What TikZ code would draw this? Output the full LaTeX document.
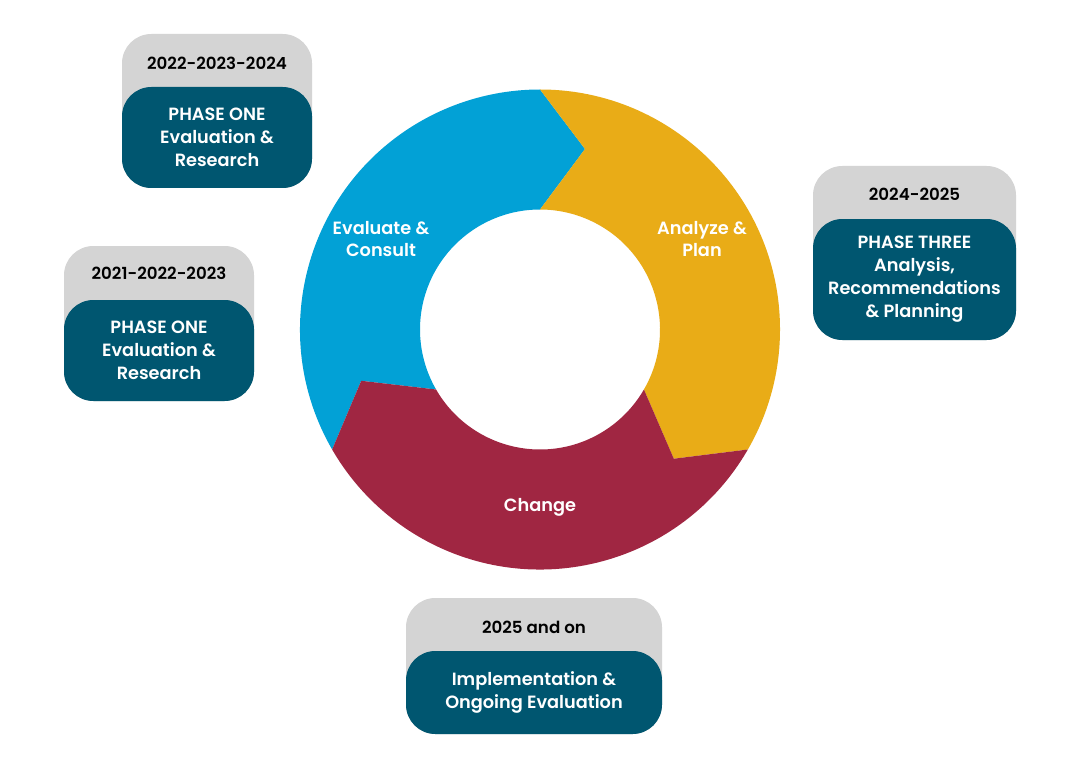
\documentclass[tikz,border=0pt]{standalone}
\usepackage{fontspec}
\setmainfont{Poppins}[BoldFont={Poppins SemiBold}]
\usetikzlibrary{positioning}
\definecolor{ringblue}{HTML}{02A1D6}
\definecolor{ringgold}{HTML}{E9AC17}
\definecolor{ringred}{HTML}{A02642}
\definecolor{phaseteal}{HTML}{005670}
\definecolor{yeargray}{HTML}{D4D4D4}

\begin{document}
\begin{tikzpicture}[x=0.75pt, y=0.75pt,
    ringlabel/.style={text=white, align=center, font=\bfseries\fontsize{13.3}{17}\selectfont},
    yeartab/.style={fill=yeargray, rounded corners=22pt},
    yeartext/.style={text=black, font=\bfseries\fontsize{12.5}{17}\selectfont},
    phasebox/.style={fill=phaseteal, text=white, rounded corners=22pt, align=center,
        inner sep=0pt, font=\bfseries\fontsize{13.3}{17.25}\selectfont}]
        % Page
        \fill[white] (0,0) rectangle (1080,769);
        \useasboundingbox (0,0) rectangle (1080,769);

        % Cycle ring
        \begin{scope}[shift={(540,439.5)}]
            \fill[ringblue] (210:240) arc[start angle=210, end angle=90, radius=240]
                -- (76:186) -- (90:120) arc[start angle=90, end angle=210, radius=120]
                -- (196:186) -- cycle;
            \fill[ringgold] (90:240) arc[start angle=90, end angle=-30, radius=240]
                -- (-44:186) -- (-30:120) arc[start angle=-30, end angle=90, radius=120]
                -- (76:186) -- cycle;
            \fill[ringred] (-30:240) arc[start angle=-30, end angle=-150, radius=240]
                -- (-164:186) -- (-150:120) arc[start angle=-150, end angle=-30, radius=120]
                -- (-44:186) -- cycle;
        \end{scope}
        \node[ringlabel] (evaluate) at (381,530) {Evaluate \&\\Consult};
        \node[ringlabel] (analyze) at (702,530) {Analyze \&\\Plan};
        \node[ringlabel] (change) at (540,262) {Change};

        % Phase one (top)
        \fill[yeartab] (122,581) rectangle (312,735);
        \node[yeartext] (yearA) at (217,706) {2022-2023-2024};
        \node[phasebox, minimum width=142.5pt, minimum height=75.75pt] (phaseA) at (217,631.5)
            {PHASE ONE\\Evaluation \&\\Research};

        % Phase one (left)
        \fill[yeartab] (64,368) rectangle (254,523);
        \node[yeartext] (yearB) at (159,496) {2021-2022-2023};
        \node[phasebox, minimum width=142.5pt, minimum height=75.75pt] (phaseB) at (159,418.5)
            {PHASE ONE\\Evaluation \&\\Research};

        % Phase three
        \fill[yeartab] (813,429) rectangle (1016,603);
        \node[yeartext] (yearC) at (914.5,575) {2024-2025};
        \node[phasebox, minimum width=152.25pt, minimum height=90.75pt] (phaseC) at (914.5,489.5)
            {PHASE THREE\\Analysis,\\Recommendations\\\& Planning};

        % Implementation
        \fill[yeartab] (406,35) rectangle (662,171);
        \node[yeartext] (yearD) at (534,142) {2025 and on};
        \node[phasebox, minimum width=192pt, minimum height=62.25pt] (phaseD) at (534,76.5)
            {Implementation \&\\Ongoing Evaluation};
    \end{tikzpicture}
\end{document}
